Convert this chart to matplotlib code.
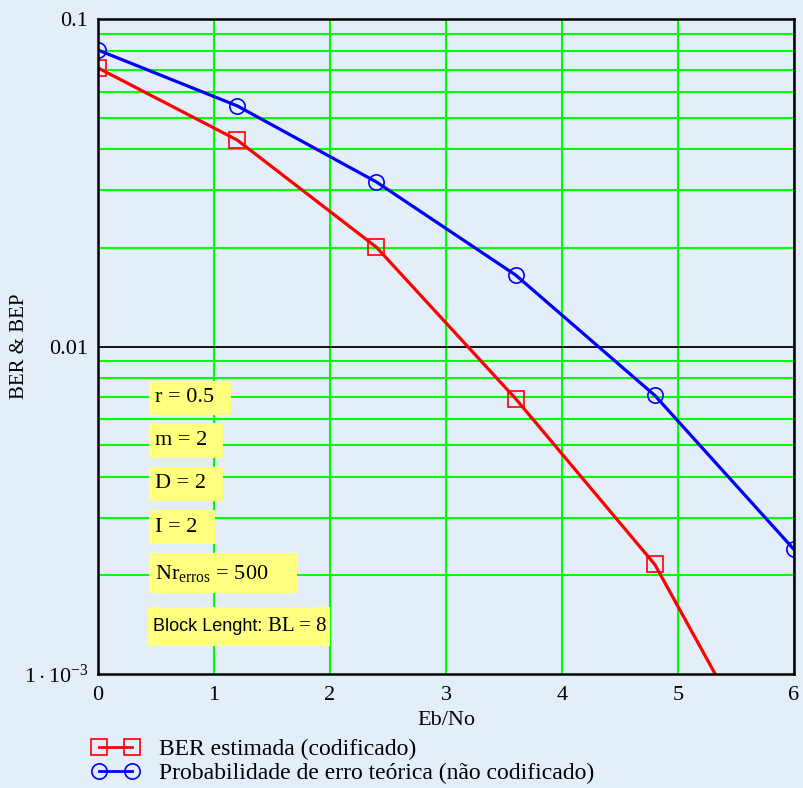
import numpy as np
import matplotlib.pyplot as plt
from matplotlib.patches import Rectangle

plt.rcParams['font.family'] = ['Liberation Serif', 'DejaVu Serif']
plt.rcParams['mathtext.fontset'] = 'custom'
plt.rcParams['mathtext.rm'] = 'Liberation Serif'
plt.rcParams['mathtext.it'] = 'Liberation Serif'

bg = '#E3EEF9'
yellow = '#FFFF80'

# Eb/No (dB) and error rates
ebno = [0.0, 1.2, 2.4, 3.6, 4.8, 6.0]
ber_coded = [0.0709, 0.0427, 0.0201, 0.00693, 0.00216, 0.000366]
bep_uncoded = [0.0804, 0.0543, 0.0318, 0.01653, 0.00709, 0.0024]

params = ["r = 0.5", "m = 2", "D = 2", "I = 2", r"Nr$_{\rm erros}$ = 500"]

W, H = 804, 788
fig = plt.figure(figsize=(W/100, H/100), dpi=100, facecolor=bg)
ax = fig.add_axes([98/W, 1-674/H, 696/W, 655/H], facecolor=bg)

ax.set_yscale('log')
ax.set_xlim(0, 6)
ax.set_ylim(1e-3, 0.1)

# grid
ax.set_xticks(range(7))
ax.set_yticks([1e-3, 1e-2, 1e-1])
ax.set_yticklabels([r'$1\cdot10^{-3}$', '0.01', '0.1'])
minor = [m*d for d in (1e-3, 1e-2) for m in range(2, 10)]
ax.set_yticks(minor, minor=True)
ax.yaxis.set_minor_formatter(plt.NullFormatter())
ax.grid(True, which='minor', color='#00FF00', lw=1.5)
ax.grid(True, which='major', axis='x', color='#00FF00', lw=1.5)
ax.axhline(0.01, color='black', lw=1.3, zorder=2)
ax.tick_params(which='both', length=0, labelsize=16, pad=9)
ax.tick_params(axis='y', pad=7)
for s in ax.spines.values():
    s.set_linewidth(1.8)
    s.set_color('black')
    s.set_zorder(5)

ax.plot(ebno, ber_coded, color='#FF0000', lw=2.3, marker='s', ms=11,
        mfc='none', mec='#FF0000', mew=1.2, label='BER estimada (codificado)', zorder=3)
ax.plot(ebno, bep_uncoded, color='#0000FF', lw=2.3, marker='o', ms=11,
        mfc='none', mec='#0000FF', mew=1.2,
        label='Probabilidade de erro teórica (não codificado)', zorder=3)

ax.set_xlabel('Eb/No', fontsize=16, labelpad=4)
fig.text(20/W, 1-346/H, 'BER & BEP', fontsize=15, rotation=90,
         ha='center', va='center')

# parameter boxes (pixel layout)
boxes = [(149, 381, 231, 415), (149, 423, 223, 458), (149, 467, 223, 501),
         (149, 510, 215, 544), (149, 553, 297, 593)]
for txt, (x0, y0, x1, y1) in zip(params, boxes):
    fig.patches.append(Rectangle((x0/W, 1-y1/H), (x1-x0)/W, (y1-y0)/H,
                                 transform=fig.transFigure, facecolor=yellow,
                                 edgecolor='none', zorder=4))
    fig.text(155/W, 1-(y0+y1)/2/H, txt, fontsize=16, va='center', ha='left', zorder=6)

x0, y0, x1, y1 = 148, 607, 330, 646
fig.patches.append(Rectangle((x0/W, 1-y1/H), (x1-x0)/W, (y1-y0)/H,
                             transform=fig.transFigure, facecolor=yellow,
                             edgecolor='none', zorder=4))
fig.text(153/W, 1-(y0+y1)/2/H, 'Block Lenght:', fontsize=13, va='center',
         ha='left', family='Liberation Sans', zorder=6)
fig.text(268/W, 1-(y0+y1)/2/H, 'BL = 8', fontsize=15, va='center', ha='left', zorder=6)

leg = fig.legend(loc='upper left', bbox_to_anchor=(92/W, 1-739/H), frameon=False,
                 fontsize=17, numpoints=2, handlelength=2.0, handletextpad=0.85,
                 labelspacing=0.1, borderpad=0, borderaxespad=0)
for h in leg.legend_handles:
    h.set_markersize(11)
    h.set_linewidth(2)

fig.savefig('out.png', dpi=100, facecolor=bg)
